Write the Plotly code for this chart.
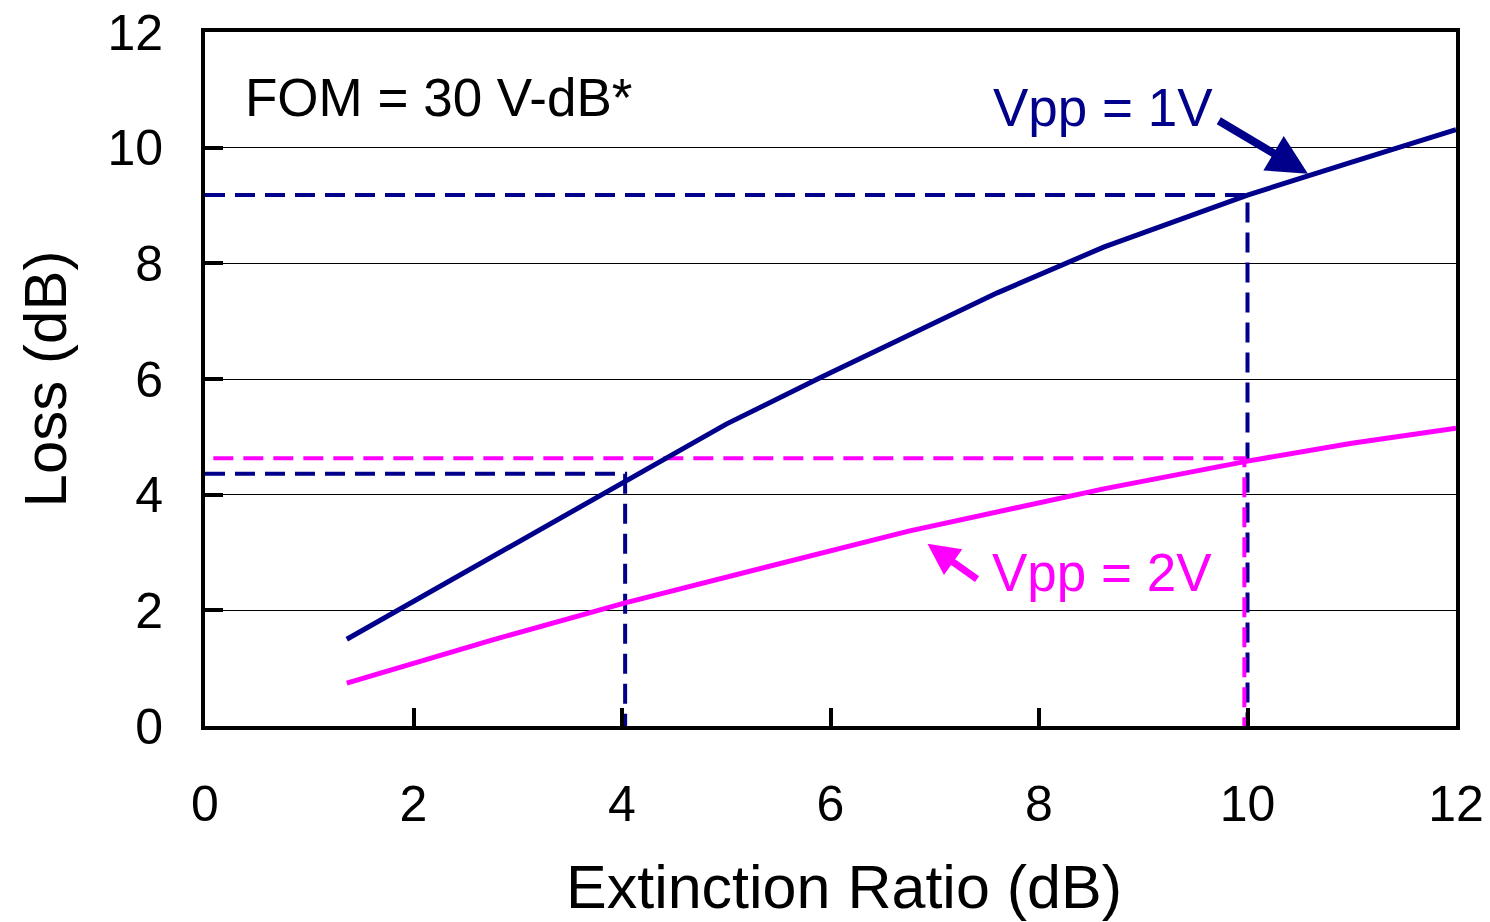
import plotly.graph_objects as go

# Data
er_1v = [1.36, 2.7, 4.05, 5.0, 5.9, 6.75, 7.6, 8.62, 10.0, 11.0, 12.0]
loss_1v = [1.50, 2.87, 4.25, 5.22, 6.02, 6.76, 7.49, 8.28, 9.18, 9.75, 10.31]

er_2v = [1.36, 2.76, 4.03, 5.4, 6.75, 8.62, 10.0, 11.0, 12.0]
loss_2v = [0.74, 1.49, 2.13, 2.75, 3.37, 4.10, 4.58, 4.89, 5.15]

# guide lines (dashed)
guide_1v_a_x = [0, 10.0, 10.0]
guide_1v_a_y = [9.18, 9.18, 0]
guide_1v_b_x = [0, 4.03, 4.03]
guide_1v_b_y = [4.36, 4.36, 0]
guide_2v_x = [0.08, 9.97, 9.97]
guide_2v_y = [4.63, 4.63, 0]

x_ticks = [0, 2, 4, 6, 8, 10, 12]
y_ticks = [0, 2, 4, 6, 8, 10, 12]

NAVY = "#00008B"
MAG = "#FF00FF"
FONT = "Arial, Liberation Sans, sans-serif"

fig = go.Figure()
fig.add_trace(go.Scatter(x=guide_1v_a_x, y=guide_1v_a_y, mode="lines",
                         line=dict(color=NAVY, width=4, dash="20px,10px"), showlegend=False))
fig.add_trace(go.Scatter(x=guide_1v_b_x, y=guide_1v_b_y, mode="lines",
                         line=dict(color=NAVY, width=4, dash="20px,10px"), showlegend=False))
fig.add_trace(go.Scatter(x=guide_2v_x, y=guide_2v_y, mode="lines",
                         line=dict(color=MAG, width=4, dash="20px,10px"), showlegend=False))
fig.add_trace(go.Scatter(x=er_1v, y=loss_1v, mode="lines",
                         line=dict(color=NAVY, width=5), showlegend=False))
fig.add_trace(go.Scatter(x=er_2v, y=loss_2v, mode="lines",
                         line=dict(color=MAG, width=5), showlegend=False))

fig.add_annotation(x=0.36, y=10.87, xref="x", yref="y", text="FOM = 30 V-dB*",
                   showarrow=False, xanchor="left", yanchor="middle",
                   font=dict(family=FONT, size=53, color="black"))
fig.add_annotation(x=9.69, y=10.7, xref="x", yref="y", text="Vpp = 1V",
                   showarrow=False, xanchor="right", yanchor="middle",
                   font=dict(family=FONT, size=53, color=NAVY))
fig.add_annotation(x=7.53, y=2.65, xref="x", yref="y", text="Vpp = 2V",
                   showarrow=False, xanchor="left", yanchor="middle",
                   font=dict(family=FONT, size=53, color=MAG))
# arrows
fig.add_annotation(x=10.58, y=9.55, ax=9.71, ay=10.48, xref="x", yref="y",
                   axref="x", ayref="y", text="", showarrow=True,
                   arrowhead=2, arrowsize=1.0, arrowwidth=8, arrowcolor=NAVY)
fig.add_annotation(x=6.93, y=3.15, ax=7.42, ay=2.52, xref="x", yref="y",
                   axref="x", ayref="y", text="", showarrow=True,
                   arrowhead=2, arrowsize=0.9, arrowwidth=7, arrowcolor=MAG)
# x-axis title, placed as in the reference (slightly right of the plot centre)
fig.add_annotation(x=0.511, y=-0.232, xref="paper", yref="paper",
                   text="Extinction Ratio (dB)", showarrow=False,
                   xanchor="center", yanchor="middle",
                   font=dict(family=FONT, size=61, color="black"))

fig.update_layout(
    width=1490, height=922,
    margin=dict(l=205, r=34, t=32, b=196, autoexpand=False),
    paper_bgcolor="white", plot_bgcolor="white",
    font=dict(family=FONT, color="black"),
    xaxis=dict(range=[0, 12], tickvals=x_ticks, ticktext=[str(v) for v in x_ticks],
               showline=True, linecolor="black", linewidth=4, mirror=True,
               ticks="inside", ticklen=18, tickwidth=4, tickcolor="black",
               showgrid=False, zeroline=False, automargin=False,
               tickfont=dict(size=50, family=FONT), ticklabelstandoff=31),
    yaxis=dict(range=[0, 12], tickvals=y_ticks, ticktext=[str(v) for v in y_ticks],
               showline=True, linecolor="black", linewidth=4, mirror=True,
               ticks="inside", ticklen=18, tickwidth=4, tickcolor="black",
               showgrid=True, gridcolor="black", gridwidth=1, zeroline=False, automargin=False,
               tickfont=dict(size=50, family=FONT), ticklabelstandoff=28,
               title=dict(text="Loss (dB)", font=dict(size=60, family=FONT), standoff=22)),
)

fig.write_html("out.html")
